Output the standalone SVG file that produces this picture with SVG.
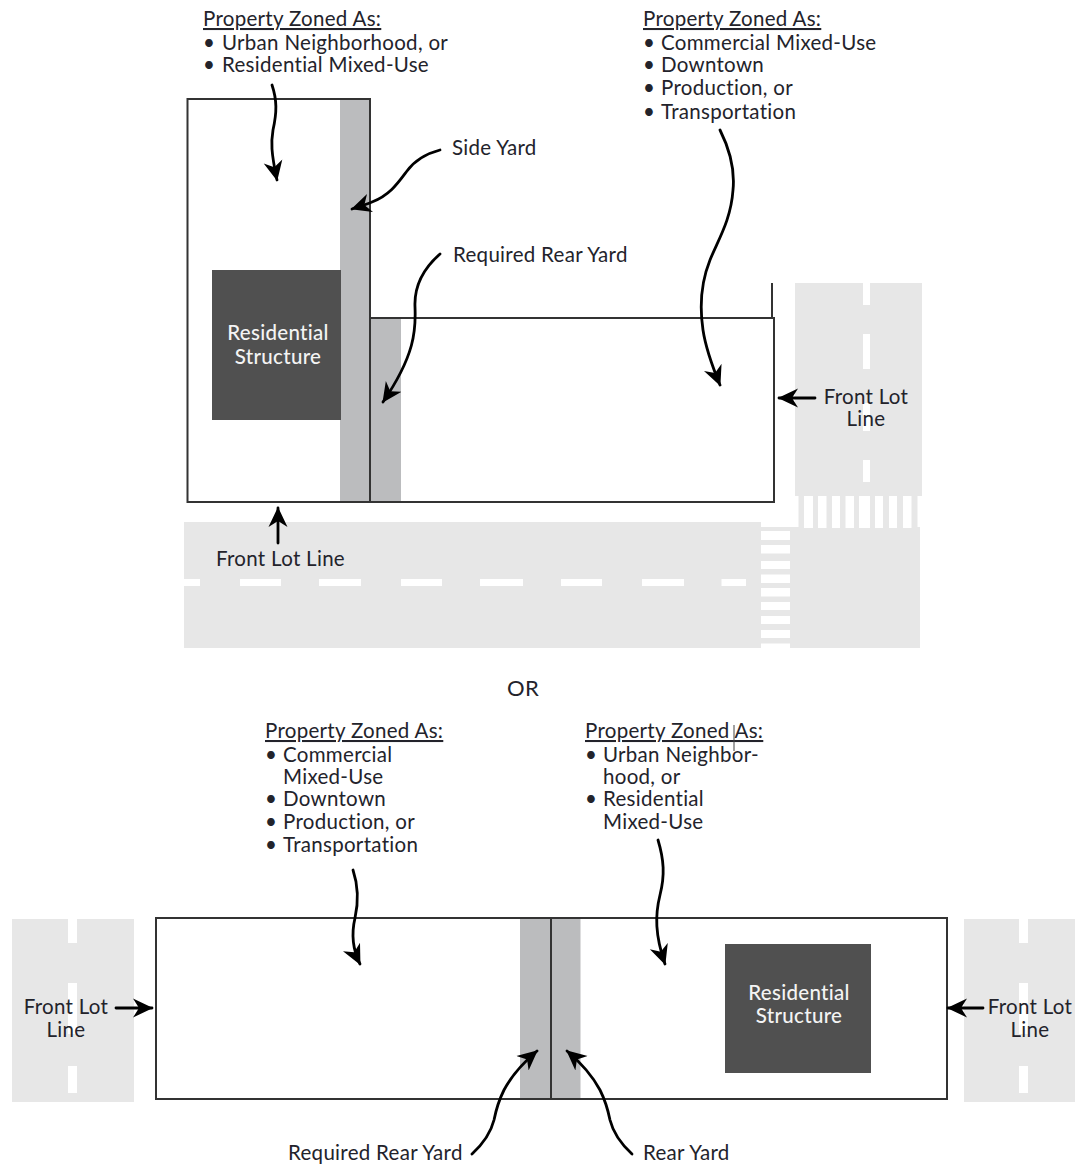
<svg xmlns="http://www.w3.org/2000/svg" width="1075" height="1166" viewBox="0 0 1075 1166">
<style>
text{font-family:Lato,"Open Sans","Liberation Sans",sans-serif;font-size:20.5px;letter-spacing:.3px;fill:#23232b}
.m{text-anchor:middle}
.u{text-decoration:underline}
.w{fill:#f4f4f4;text-anchor:middle;font-weight:500}
.road{fill:#e7e7e7}
.dash{fill:#fff}
.yard{fill:#bbbcbe}
.lot{fill:none;stroke:#333;stroke-width:2}
.str{fill:#505050}
.a{fill:none;stroke:#000;stroke-width:2.8;stroke-linecap:round;marker-end:url(#ah)}
</style>
<defs>
<marker id="ah" markerUnits="userSpaceOnUse" markerWidth="24" markerHeight="24" refX="19" refY="10" orient="auto" viewBox="0 0 24 24"><path d="M0,0.500 L20,10 L0,19.500 L6,10z" fill="#000"/></marker>
</defs>
<rect width="1075" height="1166" fill="#fff"/>
<g id="roads-top">
<rect class="road" x="795" y="283" width="127" height="213"/>
<rect class="road" x="184" y="522" width="577" height="126"/>
<rect class="road" x="761" y="527" width="159" height="121"/>
<rect class="road" x="798.500" y="496" width="119" height="32"/>
<path class="dash" d="M863,283h7v22h-7zM863,334h7v35h-7zM863,403h7v28h-7zM863,460h7v22h-7z"/>
<path class="dash" d="M804,496h9v32h-9zM818,496h8.500v32h-8.500zM832,496h8v32h-8zM845.500,496h8.500v32h-8.500zM859,496h11v32h-11zM875,496h8v32h-8zM889,496h8v32h-8zM903,496h8.500v32h-8.500z"/>
<path class="dash" d="M761,531h29v9h-29zM761,545h29v8.500h-29zM761,561h29v8h-29zM761,574.500h29v8.500h-29zM761,588h29v8.500h-29zM761,602h29v8h-29zM761,616h29v8h-29zM761,630h29v8h-29zM761,643.500h29v4.500h-29z"/>
<path class="dash" d="M184,579h16v7h-16zM240,579h41v7h-41zM319,579h42v7h-42zM401,579h41v7h-41zM480,579h43v7h-43zM561,579h41v7h-41zM642,579h42v7h-42zM721.500,579h24.500v7h-24.500z"/>
</g>
<g id="lot-top">
<rect class="yard" x="340" y="99" width="30" height="403"/>
<rect class="yard" x="371" y="318" width="30" height="184"/>
<path class="lot" d="M187.500,99H370V318H774V502H187.500Z"/>
<path class="lot" d="M370,318V502M772,283V318"/>
</g>
<g id="structure-top">
<rect class="str" x="212" y="270" width="129" height="150"/>
<text class="w" x="278" y="340">Residential</text>
<text class="w" x="278" y="364">Structure</text>
</g>
<g id="zone-top-left">
<text class="u" x="203" y="26">Property Zoned As:</text>
<text x="203" y="50">•</text><text x="222" y="50">Urban Neighborhood, or</text>
<text x="203" y="72">•</text><text x="222" y="72">Residential Mixed-Use</text>
</g>
<g id="zone-top-right">
<text class="u" x="643" y="26">Property Zoned As:</text>
<text x="643" y="50">•</text><text x="661" y="50">Commercial Mixed-Use</text>
<text x="643" y="72">•</text><text x="661" y="72">Downtown</text>
<text x="643" y="95">•</text><text x="661" y="95">Production, or</text>
<text x="643" y="119">•</text><text x="661" y="119">Transportation</text>
</g>
<g id="label-side-yard"><text x="452" y="155">Side Yard</text></g>
<g id="label-rear-top"><text x="453" y="262">Required Rear Yard</text></g>
<g id="label-front-right"><text class="m" x="866" y="404">Front Lot</text><text class="m" x="866" y="426">Line</text></g>
<g id="label-front-bottom"><text x="216" y="566">Front Lot Line</text></g>
<g id="label-or"><text class="m" x="523" y="696" style="font-size:22px">OR</text></g>
<g id="roads-bottom">
<rect class="road" x="12" y="919" width="122" height="183"/>
<rect class="road" x="964" y="919" width="111" height="183"/>
<path class="dash" d="M68,919h9v24h-9zM68,983h9v51h-9zM68,1066h9v27h-9z"/>
<path class="dash" d="M1019,919h9v24h-9zM1019,983h9v51h-9zM1019,1066h9v27h-9z"/>
</g>
<g id="lot-bottom">
<rect class="yard" x="520" y="918" width="60.500" height="181"/>
<rect class="lot" x="156" y="918" width="791" height="181"/>
<path class="lot" d="M551,918V1099"/>
</g>
<g id="structure-bottom">
<rect class="str" x="725" y="944" width="146" height="129"/>
<text class="w" x="799" y="1000">Residential</text>
<text class="w" x="799" y="1023">Structure</text>
</g>
<g id="zone-bottom-left">
<text class="u" x="265" y="738">Property Zoned As:</text>
<text x="265" y="762">•</text><text x="283" y="762">Commercial</text>
<text x="283" y="784">Mixed-Use</text>
<text x="265" y="806">•</text><text x="283" y="806">Downtown</text>
<text x="265" y="829">•</text><text x="283" y="829">Production, or</text>
<text x="265" y="852">•</text><text x="283" y="852">Transportation</text>
</g>
<g id="zone-bottom-right">
<text class="u" x="585" y="738">Property Zoned As:</text>
<text x="585" y="762">•</text><text x="603" y="762">Urban Neighbor-</text>
<text x="603" y="784">hood, or</text>
<text x="585" y="806">•</text><text x="603" y="806">Residential</text>
<text x="603" y="829">Mixed-Use</text>
<path d="M734,725V751" stroke="#444" stroke-width="1" fill="none"/>
</g>
<g id="label-front-left"><text class="m" x="66" y="1014">Front Lot</text><text class="m" x="66" y="1037">Line</text></g>
<g id="label-front-far-right"><text class="m" x="1030" y="1014">Front Lot</text><text class="m" x="1030" y="1037">Line</text></g>
<g id="label-rear-req"><text x="288" y="1160">Required Rear Yard</text></g>
<g id="label-rear"><text x="643" y="1160">Rear Yard</text></g>
<g id="connectors">
<path class="a" d="M272,85C277,100 277,112 273,130C271,142 271,152 277,180"/>
<path class="a" d="M440,150C425,154 415,160 407,171C398,183 390,195 372,202C365,205 358,207 352,209"/>
<path class="a" d="M440,254C424,268 414,285 415,307C416,330 415,355 383,402"/>
<path class="a" d="M720,130C730,150 735,170 733,190C731,220 718,240 710,260C700,285 700,310 703,330C706,350 713,368 720,385"/>
<path class="a" d="M815,398H779"/>
<path class="a" d="M278,543V508"/>
<path class="a" d="M353,870C358,885 359,900 355,918C351,935 353,950 360,964"/>
<path class="a" d="M658,840C664,860 665,875 660,895C655,915 655,935 665,964"/>
<path class="a" d="M116,1008H152"/>
<path class="a" d="M983,1008H948"/>
<path class="a" d="M472,1154C484,1143 491,1132 494,1120C497,1105 500,1098 504,1090C512,1075 524,1062 537,1051"/>
<path class="a" d="M632,1154C620,1143 613,1132 610,1120C607,1105 604,1098 600,1090C592,1075 580,1062 567,1051"/>
</g>
</svg>
